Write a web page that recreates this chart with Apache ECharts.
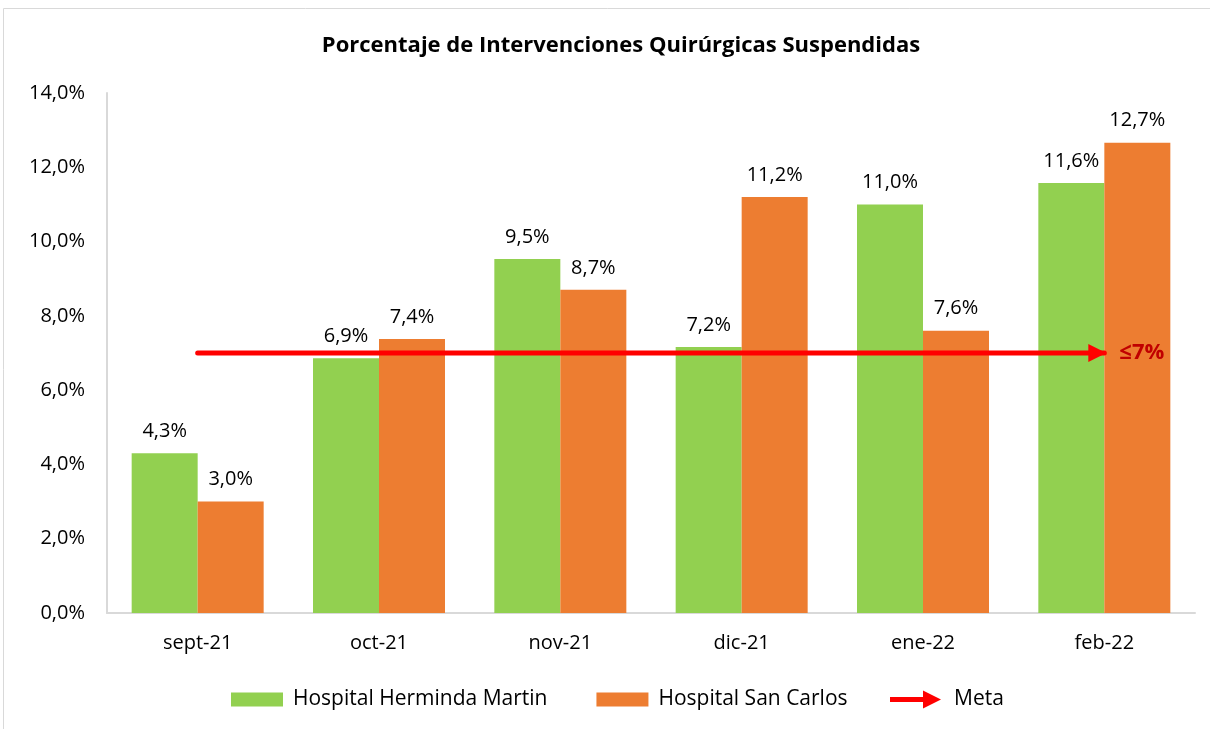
<!DOCTYPE html>
<html>
<head>
<meta charset="utf-8">
<style>
  html, body { margin: 0; padding: 0; background: #fff; }
  #chart { width: 1210px; height: 729px; }
</style>
<script src="https://cdn.jsdelivr.net/npm/echarts@6/dist/echarts.min.js"></script>
</head>
<body>
<div id="chart"></div>
<script>
// datos
var meses = ['sept-21', 'oct-21', 'nov-21', 'dic-21', 'ene-22', 'feb-22'];
var hermindaMartin = [4.3, 6.86, 9.53, 7.16, 11.0, 11.58];
var sanCarlos = [3.0, 7.38, 8.7, 11.2, 7.6, 12.66];
var meta = [7, 7, 7, 7, 7, 7];
var metaTexto = '≤7%';
var ticksY = [0, 2, 4, 6, 8, 10, 12, 14];

var fuente = '"Open Sans", "Noto Sans", sans-serif';

// formato con coma decimal
function pct(v) {
  return v.toFixed(1).replace('.', ',') + '%';
}

var myChart = echarts.init(document.getElementById('chart'));

// la ultima punta de la meta lleva la flecha
var metaData = meta.map(function (v, i) {
  if (i === meta.length - 1) {
    return {
      value: v,
      symbol: 'triangle',
      symbolSize: [18, 18],
      symbolRotate: -90,
      symbolOffset: [-7, 0]
    };
  }
  return v;
});

var option = {
  animation: false,
  textStyle: { fontFamily: fuente },
  title: {
    text: 'Porcentaje de Intervenciones Quirúrgicas Suspendidas',
    left: 616,
    textAlign: 'center',
    top: 30,
    textStyle: { fontSize: 22, fontWeight: 'bold', color: '#000', fontFamily: fuente }
  },
  graphic: [{
    type: 'rect',
    shape: { x: 3.5, y: 8.5, width: 1300, height: 800 },
    style: { fill: 'none', stroke: '#d9d9d9', lineWidth: 1 },
    silent: true
  }],
  legend: [
    {
      data: ['Hospital Herminda Martin', 'Hospital San Carlos'],
      left: 231,
      top: 689,
      padding: 0,
      itemWidth: 52,
      itemHeight: 14,
      itemGap: 49,
      icon: 'rect',
      textStyle: { fontSize: 21, color: '#000', fontFamily: fuente, padding: [0, 0, 0, 5] }
    },
    {
      data: [{
        name: 'Meta',
        icon: 'path://M2,6.5 L36,6.5 L36,11.5 L2,11.5 Z M35,0 L53,9 L35,18 Z',
        itemStyle: { color: '#FF0000', borderWidth: 0 }
      }],
      left: 890,
      top: 689,
      padding: 0,
      itemWidth: 53,
      itemHeight: 18,
      textStyle: { fontSize: 21, color: '#000', fontFamily: fuente, padding: [0, 0, 0, 7] }
    }
  ],
  grid: {
    left: 107,
    right: 15,
    top: 93,
    bottom: 116
  },
  xAxis: {
    type: 'category',
    data: meses,
    axisLine: { lineStyle: { color: '#d9d9d9', width: 2 } },
    axisTick: { show: false },
    axisLabel: { fontSize: 20, color: '#000', margin: 20, fontFamily: fuente }
  },
  yAxis: {
    type: 'value',
    min: ticksY[0],
    max: ticksY[ticksY.length - 1],
    interval: ticksY[1] - ticksY[0],
    axisLine: { show: true, lineStyle: { color: '#d9d9d9', width: 2 } },
    axisTick: { show: false },
    splitLine: { show: false },
    axisLabel: {
      fontSize: 20,
      color: '#000',
      margin: 22,
      fontFamily: fuente,
      formatter: function (v) { return pct(v); }
    }
  },
  series: [
    {
      name: 'Hospital Herminda Martin',
      type: 'bar',
      data: hermindaMartin,
      barWidth: 66,
      barGap: '0%',
      itemStyle: { color: '#92D050' },
      label: {
        show: true,
        position: 'top',
        distance: 12,
        fontSize: 20,
        color: '#000',
        fontFamily: fuente,
        formatter: function (p) { return pct(p.value); }
      }
    },
    {
      name: 'Hospital San Carlos',
      type: 'bar',
      data: sanCarlos,
      barWidth: 66,
      itemStyle: { color: '#ED7D31' },
      label: {
        show: true,
        position: 'top',
        distance: 12,
        fontSize: 20,
        color: '#000',
        fontFamily: fuente,
        formatter: function (p) { return pct(p.value); }
      }
    },
    {
      name: 'Meta',
      type: 'line',
      data: metaData,
      symbol: 'none',
      showSymbol: true,
      z: 5,
      lineStyle: { color: '#FF0000', width: 5, cap: 'round' },
      itemStyle: { color: '#FF0000', borderWidth: 0 },
      endLabel: {
        show: true,
        formatter: metaTexto,
        distance: 15,
        fontSize: 22,
        fontWeight: 'bold',
        color: '#C00000',
        fontFamily: fuente
      }
    }
  ]
};

myChart.setOption(option);
</script>
</body>
</html>
